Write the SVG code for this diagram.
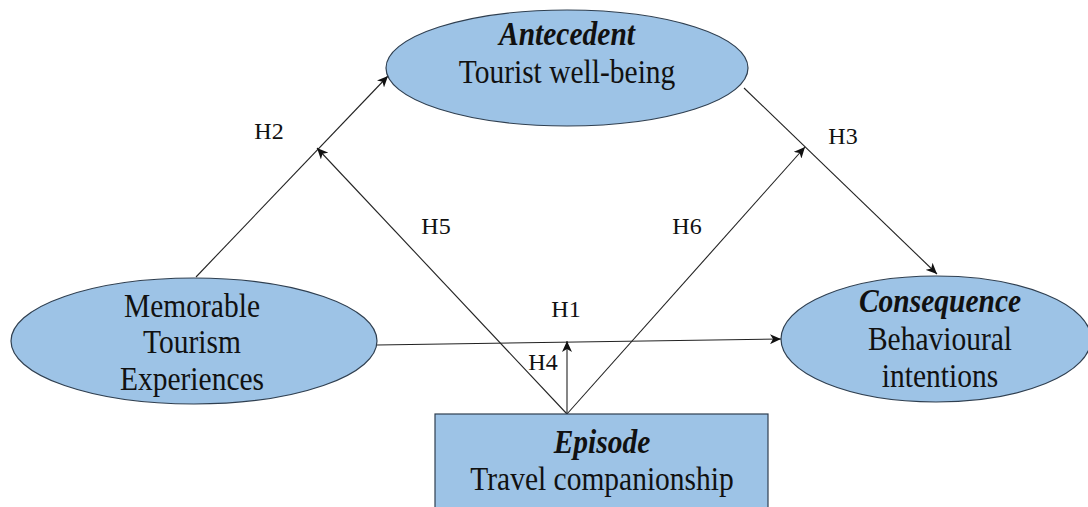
<svg xmlns="http://www.w3.org/2000/svg" width="1088" height="507" viewBox="0 0 1088 507">
<style>
.shape{fill:#9dc3e6;stroke:#2f3f50;stroke-width:1.2}
.t{font-family:"Liberation Serif","Times New Roman",Times,serif;font-size:29.5px;fill:#111;text-anchor:middle}
.b{font-weight:bold;font-style:italic}
.lbl{font-family:"Liberation Serif","Times New Roman",Times,serif;font-size:24px;fill:#111;text-anchor:middle}
.c{stroke:#222;stroke-width:1.1;fill:none;marker-end:url(#ah)}
</style>
<defs>
<marker id="ah" markerWidth="12" markerHeight="10" refX="11" refY="5" orient="auto" markerUnits="userSpaceOnUse">
<path d="M0,0 L11,5 L0,10 L3,5 z" fill="#111"/>
</marker>
</defs>
<rect width="1088" height="507" fill="#fff"/>
<g id="connectors">
<line class="c" x1="196" y1="277" x2="388" y2="76"/>
<line class="c" x1="744" y1="88" x2="937" y2="274"/>
<line class="c" x1="377" y1="345" x2="781" y2="339"/>
<line class="c" x1="567" y1="414" x2="567" y2="341"/>
<line class="c" x1="567" y1="414" x2="317" y2="148"/>
<line class="c" x1="567" y1="414" x2="805" y2="147"/>
<text class="lbl" x="269" y="139">H2</text>
<text class="lbl" x="843" y="144">H3</text>
<text class="lbl" x="436" y="234">H5</text>
<text class="lbl" x="687" y="234">H6</text>
<text class="lbl" x="566" y="317">H1</text>
<text class="lbl" x="543" y="370">H4</text>
</g>
<g id="antecedent">
<ellipse class="shape" cx="567" cy="68" rx="181" ry="58"/>
<text class="t b" transform="translate(567,45) scale(1,1.12)">Antecedent</text>
<text class="t" transform="translate(567,83) scale(1,1.12)">Tourist well-being</text>
</g>
<g id="mte">
<ellipse class="shape" cx="194" cy="341" rx="183" ry="63"/>
<text class="t" transform="translate(192,317) scale(1,1.12)">Memorable</text>
<text class="t" transform="translate(192,353) scale(1,1.12)">Tourism</text>
<text class="t" transform="translate(192,390) scale(1,1.12)">Experiences</text>
</g>
<g id="consequence">
<ellipse class="shape" cx="936" cy="339" rx="155" ry="63"/>
<text class="t b" transform="translate(940,312) scale(1,1.12)">Consequence</text>
<text class="t" transform="translate(940,350) scale(1,1.12)">Behavioural</text>
<text class="t" transform="translate(940,387) scale(1,1.12)">intentions</text>
</g>
<g id="episode">
<rect class="shape" x="435" y="414" width="333" height="100"/>
<text class="t b" transform="translate(602,453) scale(1,1.12)">Episode</text>
<text class="t" transform="translate(602,490) scale(1,1.12)">Travel companionship</text>
</g>
</svg>
